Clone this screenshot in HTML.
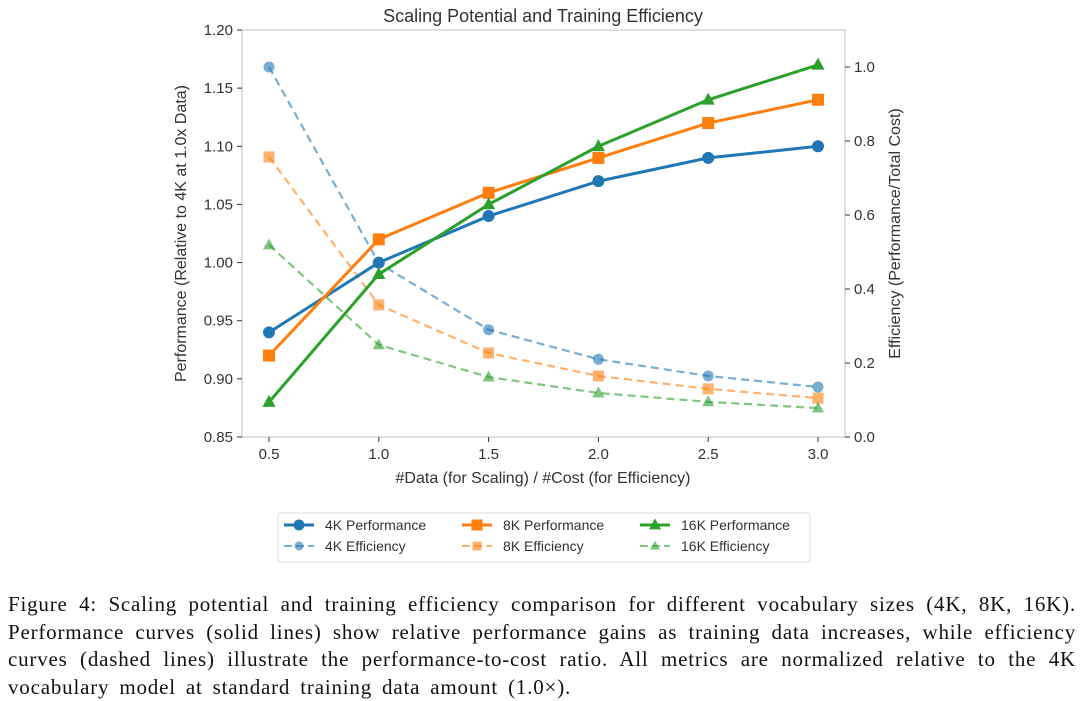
<!DOCTYPE html>
<html><head><meta charset="utf-8"><style>
body{margin:0;background:#fff;width:1080px;height:700px;overflow:hidden}
svg text{font-family:"Liberation Sans",sans-serif;fill:#333}
.cap{position:absolute;left:8px;top:591px;width:1068px;font-family:"Liberation Serif",serif;font-size:21px;line-height:27.5px;color:#111;letter-spacing:0.8px}
.cap div{white-space:nowrap;text-align:justify;text-align-last:justify}
.cap div.last{text-align-last:left;word-spacing:4px}
</style></head><body>
<svg id="chart" width="1080" height="590" style="position:absolute;left:0;top:0"></svg>
<div class="cap"><div>Figure 4: Scaling potential and training efficiency comparison for different vocabulary sizes (4K, 8K, 16K).</div><div>Performance curves (solid lines) show relative performance gains as training data increases, while efficiency</div><div>curves (dashed lines) illustrate the performance-to-cost ratio. All metrics are normalized relative to the 4K</div><div class="last">vocabulary model at standard training data amount (1.0×).</div></div>
<script>
const xs=[0.5,1.0,1.5,2.0,2.5,3.0];
const perf4=[0.94,1.00,1.04,1.07,1.09,1.10];
const perf8=[0.92,1.02,1.06,1.09,1.12,1.14];
const perf16=[0.88,0.99,1.05,1.10,1.14,1.17];
const eff4=[1.0,0.47,0.29,0.21,0.165,0.135];
const eff8=[0.757,0.357,0.227,0.165,0.13,0.105];
const eff16=[0.519,0.249,0.162,0.119,0.095,0.078];
const leftTicks=[0.85,0.90,0.95,1.00,1.05,1.10,1.15,1.20];
const rightTicks=[0.0,0.2,0.4,0.6,0.8,1.0];
const xTicks=[0.5,1.0,1.5,2.0,2.5,3.0];
const L=242,R=845,T=30,B=437;
const X=v=>269+(v-0.5)*219.6;
const Y=v=>B-(v-0.85)/0.35*(B-T);
const Y2=v=>B-v*370;
const svg=document.getElementById('chart');
const NS='http://www.w3.org/2000/svg';
function mk(t,a,p){const e=document.createElementNS(NS,t);for(const k in a)e.setAttribute(k,a[k]);(p||svg).appendChild(e);return e;}
let e=mk('rect',{x:L,y:T,width:R-L,height:B-T,fill:'none',stroke:'#ccc','stroke-width':1.2});


leftTicks.forEach(v=>{mk('line',{x1:L-5,x2:L,y1:Y(v),y2:Y(v),stroke:'#333'});
 const t=mk('text',{x:L-9,y:Y(v)+5,'text-anchor':'end','font-size':15});t.textContent=v.toFixed(2);
 
 });
rightTicks.forEach(v=>{mk('line',{x1:R,x2:R+5,y1:Y2(v),y2:Y2(v),stroke:'#333'});
 const t=mk('text',{x:R+9,y:Y2(v)+5,'font-size':15});t.textContent=v.toFixed(1);
 
 });
xTicks.forEach(v=>{mk('line',{x1:X(v),x2:X(v),y1:B,y2:B+5,stroke:'#333'});
 const t=mk('text',{x:X(v),y:B+22,'text-anchor':'middle','font-size':15});t.textContent=v.toFixed(1);
 
 });
let t=mk('text',{x:543,y:22,'text-anchor':'middle','font-size':18});t.textContent='Scaling Potential and Training Efficiency';

t=mk('text',{x:543,y:483,'text-anchor':'middle','font-size':16});t.textContent='#Data (for Scaling) / #Cost (for Efficiency)';

t=mk('text',{x:0,y:0,'text-anchor':'middle','font-size':16,transform:`translate(186,${(T+B)/2}) rotate(-90)`});t.textContent='Performance (Relative to 4K at 1.0x Data)';

t=mk('text',{x:0,y:0,'text-anchor':'middle','font-size':16,transform:`translate(900,${(T+B)/2}) rotate(-90)`});t.textContent='Efficiency (Performance/Total Cost)';

function marker(shape,x,y,c,op,s,g){
 if(shape==='o')return mk('circle',{cx:x,cy:y,r:s,fill:c,opacity:op},g);
 if(shape==='s')return mk('rect',{x:x-s,y:y-s,width:2*s,height:2*s,fill:c,opacity:op},g);
 return mk('polygon',{points:`${x},${y-s*1.2} ${x-s*1.1},${y+s*0.8} ${x+s*1.1},${y+s*0.8}`,fill:c,opacity:op},g);
}
function series(name,vals,yf,c,shape,dash,op,ms){
 const g=mk('g',{});
 
 
 mk('polyline',{points:xs.map((x,i)=>X(x)+','+yf(vals[i])).join(' '),fill:'none',stroke:c,'stroke-width':dash?2.2:3,'stroke-dasharray':dash?'8,5':'none',opacity:op},g);
 xs.forEach((x,i)=>marker(shape,X(x),yf(vals[i]),c,op,ms,g));
}
const C1='#1f77b4',C2='#ff7f0e',C3='#2ca02c';
series('series-4k-efficiency',eff4,Y2,C1,'o',1,0.6,5.5);
series('series-8k-efficiency',eff8,Y2,C2,'s',1,0.6,5.5);
series('series-16k-efficiency',eff16,Y2,C3,'^',1,0.6,5.5);
series('series-4k-performance',perf4,Y,C1,'o',0,1,6);
series('series-8k-performance',perf8,Y,C2,'s',0,1,6);
series('series-16k-performance',perf16,Y,C3,'^',0,1,6);
const lg=mk('g',{});
mk('rect',{x:278,y:513,width:532,height:49,rx:3,fill:'#fff',stroke:'#ddd'},lg);
const items=[['4K Performance',C1,'o',0,1,282,525],['8K Performance',C2,'s',0,1,460,525],['16K Performance',C3,'^',0,1,638,525],
['4K Efficiency',C1,'o',1,0.6,282,546],['8K Efficiency',C2,'s',1,0.6,460,546],['16K Efficiency',C3,'^',1,0.6,638,546]];
items.forEach(it=>{const g=mk('g',{},lg);
 
 mk('line',{x1:it[5]+2,x2:it[5]+32,y1:it[6],y2:it[6],stroke:it[1],'stroke-width':it[3]?2:3,'stroke-dasharray':it[3]?'8,4':'none',opacity:it[4]},g);
 marker(it[2],it[5]+17,it[6],it[1],it[4],it[3]?4.5:5.5,g);
 const tt=mk('text',{x:it[5]+43,y:it[6]+5,'font-size':14},g);tt.textContent=it[0];});
</script>
</body></html>
